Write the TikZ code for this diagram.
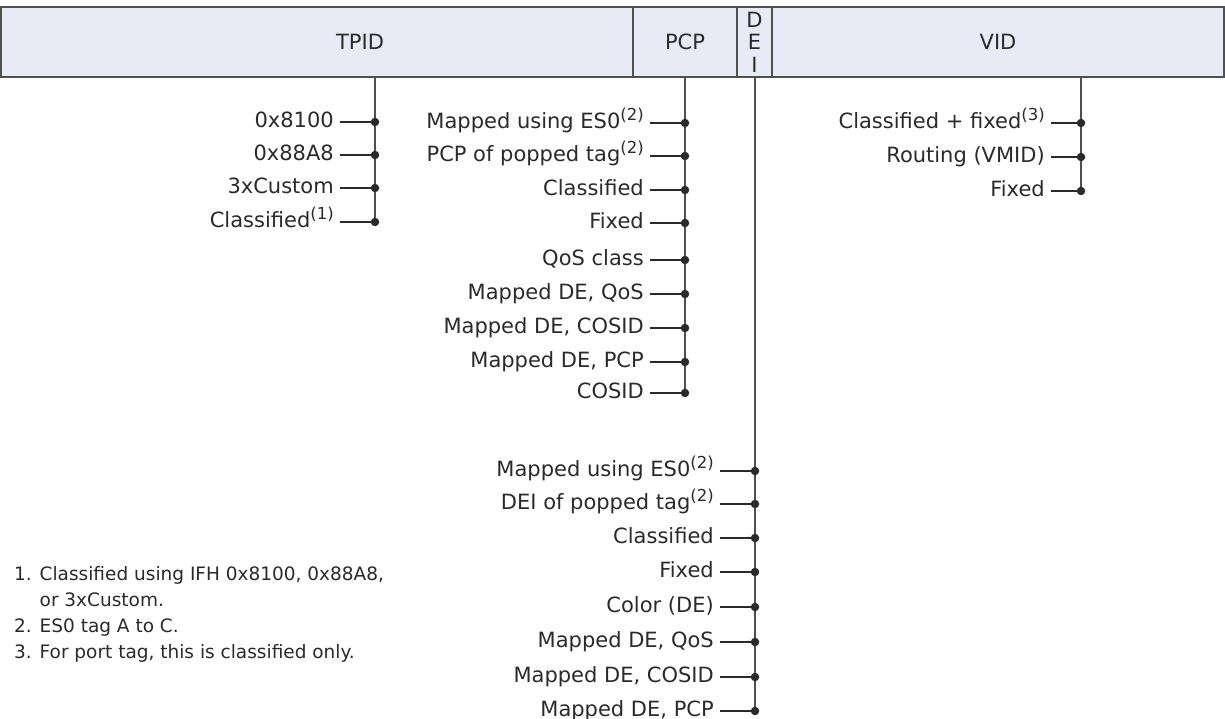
\documentclass[tikz,border=0pt]{standalone}
\usepackage{fontspec}
\setmainfont{DejaVu Sans}
\usetikzlibrary{positioning,backgrounds}
\definecolor{hdrfill}{HTML}{E8EBF6}
\definecolor{rulegray}{HTML}{505050}
\definecolor{inkgray}{HTML}{2A2A2A}
\newcommand{\fnref}[1]{\raisebox{0.4em}{\fontsize{16.5}{16.5}\selectfont(#1)}}

\tikzset{
  field/.style={draw=rulegray, fill=hdrfill, line width=1.5pt, minimum height=70pt,
    inner sep=0pt, outer sep=0pt, align=center, text=inkgray, font=\fontsize{21}{22.5}\selectfont},
  dot/.style={circle, fill=inkgray, minimum size=8.5pt, inner sep=0pt, outer sep=0pt},
  lbl/.style={inner sep=0pt, outer sep=6pt, text height=15pt, text depth=4pt,
    text=inkgray, font=\fontsize{21}{25}\selectfont},
  trunk/.style={draw=rulegray, line width=1.7pt},
  stub/.style={draw=inkgray, line width=1.3pt},
  notes/.style={inner sep=0pt, align=left, text=inkgray, font=\fontsize{18.5}{26}\selectfont}
}

\begin{document}
\begin{tikzpicture}[x=1pt, y=-1pt]
    \useasboundingbox (0,0) rectangle (1225,719);

    % Draw the tag fields
    \node[field, minimum width=632pt] (tpid) at (317,42) {\hspace*{86pt}TPID};
    \node[field, minimum width=104pt] (pcp) at (685,42) {PCP};
    \node[field, minimum width=35pt] (dei) at (754.5,42) {D\\E\\I};
    \node[field, minimum width=452pt] (vid) at (998,42) {VID};

    % TPID choices
    \foreach \y/\txt [count=\i] in {122/0x8100, 155/0x88A8, 188/3xCustom, 222/{Classified\fnref{1}}} {
        \node[dot] (t\i) at (375,\y) {};
        \node[lbl, left=31pt of t\i] (tl\i) {\txt};
        \draw[stub] (tl\i) -- (t\i);
    }

    % PCP choices
    \foreach \y/\txt [count=\i] in {123/{Mapped using ES0\fnref{2}}, 156/{PCP of popped tag\fnref{2}}, 190/Classified, 223/Fixed, 260/QoS class, 294/{Mapped DE, QoS}, 328/{Mapped DE, COSID}, 362/{Mapped DE, PCP}, 393/COSID} {
        \node[dot] (p\i) at (685,\y) {};
        \node[lbl, left=31pt of p\i] (pl\i) {\txt};
        \draw[stub] (pl\i) -- (p\i);
    }

    % DEI choices
    \foreach \y/\txt [count=\i] in {471/{Mapped using ES0\fnref{2}}, 504/{DEI of popped tag\fnref{2}}, 538/Classified, 572/Fixed, 607/Color (DE), 642/{Mapped DE, QoS}, 677/{Mapped DE, COSID}, 711/{Mapped DE, PCP}} {
        \node[dot] (d\i) at (755,\y) {};
        \node[lbl, left=31pt of d\i] (dl\i) {\txt};
        \draw[stub] (dl\i) -- (d\i);
    }

    % VID choices
    \foreach \y/\txt [count=\i] in {123/{Classified + fixed\fnref{3}}, 157/Routing (VMID), 191/Fixed} {
        \node[dot] (v\i) at (1081,\y) {};
        \node[lbl, left=26pt of v\i] (vl\i) {\txt};
        \draw[stub] (vl\i) -- (v\i);
    }

    % Trunks from the fields down to the last choice
    \begin{scope}[on background layer]
        \draw[trunk] (tpid.south -| t1) -- (t4);
        \draw[trunk] (pcp.south -| p1) -- (p9);
        \draw[trunk] (dei.south -| d1) -- (d8);
        \draw[trunk] (vid.south -| v1) -- (v3);
    \end{scope}

    % Footnotes
    \node[notes, anchor=north west] (fn) at (14,566) {1. Classified using IFH 0x8100, 0x88A8,\\
        \phantom{1. }or 3xCustom.\\
        2. ES0 tag A to C.\\
        3. For port tag, this is classified only.};
\end{tikzpicture}
\end{document}
